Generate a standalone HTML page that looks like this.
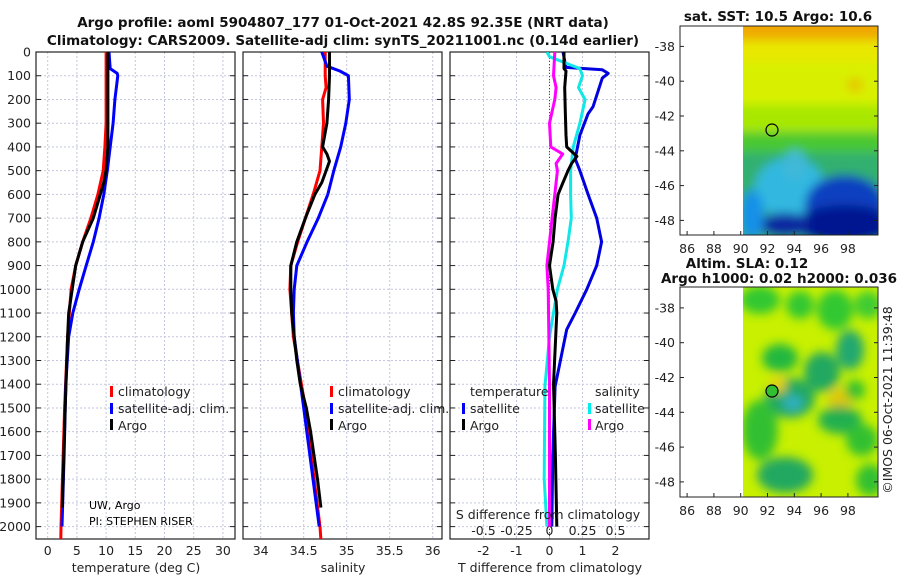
<!DOCTYPE html>
<html><head><meta charset="utf-8">
<style>
html,body{margin:0;padding:0;background:#fff;}
svg{display:block;font-family:"DejaVu Sans","Liberation Sans",sans-serif;}
.t{font-size:12.5px;fill:#222;}
.b{font-weight:bold;font-size:13.5px;fill:#111;}
</style></head><body>
<svg id="fig" width="900" height="580" viewBox="0 0 900 580">
<defs>
<filter id="blur1" x="-20%" y="-20%" width="140%" height="140%"><feGaussianBlur stdDeviation="5"/></filter>
<filter id="blur2" x="-20%" y="-20%" width="140%" height="140%"><feGaussianBlur stdDeviation="5"/></filter>
<clipPath id="c1"><rect x="743" y="26" width="135" height="209"/></clipPath>
<clipPath id="c2"><rect x="743" y="287" width="135" height="210"/></clipPath>
<clipPath id="p1"><rect x="36" y="52" width="199" height="487"/></clipPath>
<clipPath id="p2"><rect x="243" y="52" width="199" height="487"/></clipPath>
<clipPath id="p3"><rect x="450" y="52" width="199" height="487"/></clipPath>
</defs>
<text class="b" x="343" y="27" text-anchor="middle">Argo profile: aoml 5904807_177 01-Oct-2021 42.8S 92.35E (NRT data)</text>
<text class="b" x="343" y="45" text-anchor="middle">Climatology: CARS2009. Satellite-adj clim: synTS_20211001.nc (0.14d earlier)</text>

<g>
<g clip-path="url(#c1)">
<rect x="743" y="26" width="135" height="209" fill="#d8f000"/>
<g filter="url(#blur1)">
<rect x="735" y="15" width="150" height="28" fill="#f0a800"/>
<rect x="735" y="40" width="150" height="22" fill="#e8e800"/>
<rect x="735" y="105" width="150" height="30" fill="#a8e800"/>
<rect x="735" y="132" width="150" height="25" fill="#48c830"/>
<rect x="735" y="152" width="150" height="100" fill="#30b070"/>
<ellipse cx="790" cy="188" rx="35" ry="30" fill="#30b8e0"/>
<ellipse cx="795" cy="165" rx="12" ry="15" fill="#40b8d8"/>
<ellipse cx="845" cy="205" rx="40" ry="30" fill="#1040c0"/>
<ellipse cx="845" cy="225" rx="50" ry="20" fill="#001890"/>
<ellipse cx="785" cy="225" rx="25" ry="12" fill="#0828a0"/>
<ellipse cx="752" cy="215" rx="12" ry="25" fill="#1890e8"/>
<ellipse cx="855" cy="85" rx="8" ry="6" fill="#e8c000"/>
</g>
</g>
<rect x="680" y="26" width="198" height="209" fill="none" stroke="#222" stroke-width="1"/>
<circle cx="772" cy="130" r="6" fill="none" stroke="#000" stroke-width="1.2"/>
</g>
<text class="b" x="778" y="21" text-anchor="middle">sat. SST: 10.5 Argo: 10.6</text>

<g>
<g clip-path="url(#c2)">
<rect x="743" y="287" width="135" height="210" fill="#c8f000"/>
<g filter="url(#blur2)">
<ellipse cx="760" cy="300" rx="20" ry="14" fill="#30c830"/>
<ellipse cx="800" cy="305" rx="14" ry="14" fill="#30c830"/>
<ellipse cx="835" cy="310" rx="18" ry="20" fill="#30c830"/>
<ellipse cx="868" cy="305" rx="14" ry="14" fill="#40cc30"/>
<ellipse cx="780" cy="358" rx="18" ry="14" fill="#20b840"/>
<ellipse cx="850" cy="350" rx="14" ry="20" fill="#20a870"/>
<ellipse cx="822" cy="372" rx="18" ry="20" fill="#20a860"/>
<ellipse cx="790" cy="398" rx="25" ry="20" fill="#20a860"/>
<ellipse cx="793" cy="403" rx="10" ry="8" fill="#30b0c0"/>
<ellipse cx="840" cy="400" rx="12" ry="12" fill="#e0c800"/>
<ellipse cx="840" cy="420" rx="22" ry="14" fill="#20b050"/>
<ellipse cx="760" cy="430" rx="18" ry="30" fill="#30c030"/>
<ellipse cx="785" cy="475" rx="28" ry="18" fill="#20a860"/>
<ellipse cx="862" cy="440" rx="16" ry="16" fill="#30c030"/>
<ellipse cx="870" cy="480" rx="14" ry="16" fill="#30c030"/>
<ellipse cx="855" cy="390" rx="10" ry="10" fill="#30c030"/>
<ellipse cx="778" cy="385" rx="8" ry="8" fill="#e8d000"/>
</g>
</g>
<rect x="680" y="287" width="198" height="210" fill="none" stroke="#222" stroke-width="1"/>
<circle cx="772" cy="391" r="6" fill="#30c030" stroke="#000" stroke-width="1.2"/>
</g>
<text class="b" x="747" y="268" text-anchor="middle">Altim. SLA: 0.12</text>
<text class="b" x="779" y="283" text-anchor="middle">Argo h1000: 0.02 h2000: 0.036</text>
<text class="t" transform="translate(892,400) rotate(-90)" text-anchor="middle">©IMOS 06-Oct-2021 11:39:48</text>

<g id="axes"></g>
<g id="series"></g>

<g>
<rect x="110" y="386" width="3" height="11" fill="#f00"/><text class="t" x="118" y="396">climatology</text>
<rect x="110" y="403" width="3" height="11" fill="#00f"/><text class="t" x="118" y="413">satellite-adj. clim.</text>
<rect x="110" y="419" width="3" height="11" fill="#000"/><text class="t" x="118" y="430">Argo</text>
</g>
<g>
<rect x="330" y="386" width="3" height="11" fill="#f00"/><text class="t" x="338" y="396">climatology</text>
<rect x="330" y="403" width="3" height="11" fill="#00f"/><text class="t" x="338" y="413">satellite-adj. clim.</text>
<rect x="330" y="419" width="3" height="11" fill="#000"/><text class="t" x="338" y="430">Argo</text>
</g>
<g>
<text class="t" x="470" y="396">temperature</text>
<rect x="462" y="403" width="3" height="11" fill="#00f"/><text class="t" x="470" y="413">satellite</text>
<rect x="462" y="419" width="3" height="11" fill="#000"/><text class="t" x="470" y="430">Argo</text>
<text class="t" x="595" y="396">salinity</text>
<rect x="588" y="403" width="3" height="11" fill="#0ee"/><text class="t" x="595" y="413">satellite</text>
<rect x="588" y="419" width="3" height="11" fill="#f0f"/><text class="t" x="595" y="430">Argo</text>
</g>
<text x="89" y="509" style="font-size:11px">UW, Argo</text>
<text x="89" y="525" style="font-size:11px">PI: STEPHEN RISER</text>
<text class="t" x="548" y="519" text-anchor="middle">S difference from climatology</text>
</svg>
<script>
// ---- data ----
const depthTicks=[0,100,200,300,400,500,600,700,800,900,1000,1100,1200,1300,1400,1500,1600,1700,1800,1900,2000];
const tempTicks=[0,5,10,15,20,25,30];
const salTicks=[34,34.5,35,35.5,36];
const salTickLabels=["34","34.5","35","35.5","36"];
const dtTicks=[-2,-1,0,1,2];
const dsTicks=[-0.5,-0.25,0,0.25,0.5];
const dsTickLabels=["-0.5","-0.25","0","0.25","0.5"];
const lonTicks=[86,88,90,92,94,96,98];
const latTicks=[-38,-40,-42,-44,-46,-48];

const tClimD=[0,300,400,500,600,700,800,900,1000,1200,1500,2000,2055];
const tClim=[10.0,10.0,9.8,9.5,8.6,7.4,6.0,4.8,4.0,3.4,2.9,2.28,2.25];
const tSatD=[0,70,90,100,200,300,400,500,600,700,800,900,1000,1100,1200,1400,1700,2000];
const tSat=[10.5,10.7,11.9,12.0,11.5,11.2,10.7,10.2,9.6,8.8,7.8,6.6,5.4,4.3,3.6,3.1,2.8,2.45];
const tArgoD=[0,400,500,550,600,700,800,900,1000,1100,1200,1500,1920];
const tArgo=[10.3,10.3,10.0,9.6,9.0,7.8,6.0,4.8,4.2,3.6,3.4,3.0,2.5];

const sClimD=[0,100,150,200,300,400,500,600,700,800,900,1000,1200,1500,2000,2055];
const sClim=[34.75,34.75,34.76,34.72,34.73,34.71,34.69,34.61,34.52,34.43,34.35,34.34,34.38,34.52,34.69,34.70];
const sSatD=[0,60,80,100,200,300,400,500,600,700,800,900,1000,1100,1200,1500,2000];
const sSat=[34.71,34.77,34.92,35.02,35.03,34.99,34.93,34.85,34.78,34.67,34.54,34.42,34.39,34.38,34.39,34.50,34.68];
const sArgoD=[0,100,200,300,400,430,460,500,550,600,700,800,900,1000,1100,1200,1300,1400,1500,1600,1700,1800,1920];
const sArgo=[34.80,34.80,34.79,34.77,34.72,34.77,34.80,34.76,34.71,34.63,34.52,34.42,34.35,34.35,34.36,34.39,34.42,34.46,34.53,34.58,34.62,34.66,34.70];

const dTArgoD=[0,70,80,150,250,350,400,440,470,500,550,600,700,800,900,1000,1050,1100,1400,1700,2000];
const dTArgo=[0.44,0.44,0.5,0.46,0.48,0.5,0.52,0.83,0.67,0.56,0.41,0.26,0.17,0.11,0.0,0.1,0.2,0.22,0.12,0.18,0.22];
const dTSatD=[0,65,75,90,110,230,260,350,450,500,600,700,800,900,1000,1100,1170,1410,1700,2000];
const dTSat=[0.41,0.5,1.6,1.78,1.6,1.32,1.17,0.92,0.78,0.92,1.17,1.43,1.58,1.43,1.13,0.78,0.52,0.17,0.1,0.07];
const dSSatD=[0,20,70,100,150,200,300,400,500,600,700,800,900,1000,1100,1200,1410,1800,2000];
const dSSat=[-0.02,0.0,0.23,0.25,0.22,0.27,0.23,0.18,0.16,0.16,0.165,0.14,0.11,0.06,0.03,0.0,-0.035,-0.04,-0.02];
const dSArgoD=[0,100,150,200,300,400,430,470,500,600,700,800,900,1000,1400,2000];
const dSArgo=[0.04,0.03,0.05,0.04,0.0,0.01,0.1,0.05,0.06,0.04,0.02,0.0,-0.02,-0.01,0.0,0.0];

// ---- scales ----
const yD=d=>52+d*0.2373;
const xT=t=>47.7+t*5.84;
const xS=s=>260.7+(s-34)*86;
const xDT=v=>549.5+v*33;
const xDS=v=>549.5+v*132;
const xLon=l=>740.7+(l-90)*13.4;
const yLat1=l=>116+(-42-l)*17.4;
const yLat2=l=>377.5+(-42-l)*17.4;

const NS="http://www.w3.org/2000/svg";
function mk(tag,parent,attrs){const e=document.createElementNS(NS,tag);for(const k in attrs)e.setAttribute(k,attrs[k]);parent.appendChild(e);return e;}
const axes=document.getElementById('axes');
const ser=document.getElementById('series');
const panels=[{x0:36,x:xT,ticks:tempTicks,labels:tempTicks.map(String),title:"temperature (deg C)",name:"temperature-panel"},
{x0:243,x:xS,ticks:salTicks,labels:salTickLabels,title:"salinity",name:"salinity-panel"},
{x0:450,x:xDT,ticks:dtTicks,labels:dtTicks.map(String),title:"T difference from climatology",name:"difference-panel"}];
panels.forEach((p,pi)=>{
  const g=mk('g',axes,{});
  
  
  depthTicks.forEach(d=>{
    mk('line',g,{x1:p.x0,x2:p.x0+199,y1:yD(d),y2:yD(d),stroke:'#c4c6de','stroke-width':1,'stroke-dasharray':'2,2'});
    mk('line',g,{x1:p.x0,x2:p.x0+5,y1:yD(d),y2:yD(d),stroke:'#222'});
    mk('line',g,{x1:p.x0+194,x2:p.x0+199,y1:yD(d),y2:yD(d),stroke:'#222'});
  });
  p.ticks.forEach((t,i)=>{
    mk('line',g,{x1:p.x(t),x2:p.x(t),y1:52,y2:539,stroke:'#c4c6de','stroke-width':1,'stroke-dasharray':'2,2'});
    const tx=mk('text',g,{x:p.x(t),y:555,'text-anchor':'middle',class:'t'});
    tx.textContent=p.labels[i];
  });
  mk('rect',g,{x:p.x0,y:52,width:199,height:487,fill:'none',stroke:'#222','stroke-width':1.2});
  const tt=mk('text',g,{x:p.x0+100,y:572,'text-anchor':'middle',class:'t'});
  tt.textContent=p.title;
});
depthTicks.forEach(d=>{
  const tx=mk('text',axes,{x:31,y:yD(d)+4.5,'text-anchor':'end',class:'t'});
  
  
  tx.textContent=String(d);
});
dsTicks.forEach((v,i)=>{
  const tx=mk('text',axes,{x:xDS(v),y:535,'text-anchor':'middle',class:'t'});
  
  
  tx.textContent=dsTickLabels[i];
});
mk('line',axes,{x1:xDT(0),x2:xDT(0),y1:52,y2:539,stroke:'#444','stroke-width':1,'stroke-dasharray':'1,2'});
// map ticks
[[yLat1,235,26],[yLat2,497,287]].forEach(([yl,bot,top],mi)=>{
  latTicks.forEach(l=>{
    const tx=mk('text',axes,{x:675,y:yl(l)+4.5,'text-anchor':'end',class:'t'});
    
    
    tx.textContent=String(l);
    mk('line',axes,{x1:680,x2:684,y1:yl(l),y2:yl(l),stroke:'#222'});
    mk('line',axes,{x1:874,x2:878,y1:yl(l),y2:yl(l),stroke:'#222'});
  });
  lonTicks.forEach(l=>{
    const tx=mk('text',axes,{x:xLon(l),y:bot+18,'text-anchor':'middle',class:'t'});
    
    
    tx.textContent=String(l);
    mk('line',axes,{x1:xLon(l),x2:xLon(l),y1:bot,y2:bot-4,stroke:'#222'});
  });
});
function line(D,V,xf,color,clip,name){
  const pts=D.map((d,i)=>xf(V[i]).toFixed(1)+','+yD(d).toFixed(1)).join(' ');
  const pl=mk('polyline',ser,{points:pts,fill:'none',stroke:color,'stroke-width':3,'stroke-linejoin':'round','clip-path':'url(#'+clip+')'});
  
  
}
line(tClimD,tClim,xT,'#f00','p1','temp-climatology-line');
line(tSatD,tSat,xT,'#00f','p1','temp-satellite-line');
line(tArgoD,tArgo,xT,'#000','p1','temp-argo-line');
line(sClimD,sClim,xS,'#f00','p2','sal-climatology-line');
line(sSatD,sSat,xS,'#00f','p2','sal-satellite-line');
line(sArgoD,sArgo,xS,'#000','p2','sal-argo-line');
line(dTSatD,dTSat,xDT,'#0000e0','p3','tdiff-satellite-line');
line(dSSatD,dSSat,xDS,'#10e8e8','p3','sdiff-satellite-line');
line(dSArgoD,dSArgo,xDS,'#f0f','p3','sdiff-argo-line');
line(dTArgoD,dTArgo,xDT,'#000','p3','tdiff-argo-line');
</script>
</body></html>
